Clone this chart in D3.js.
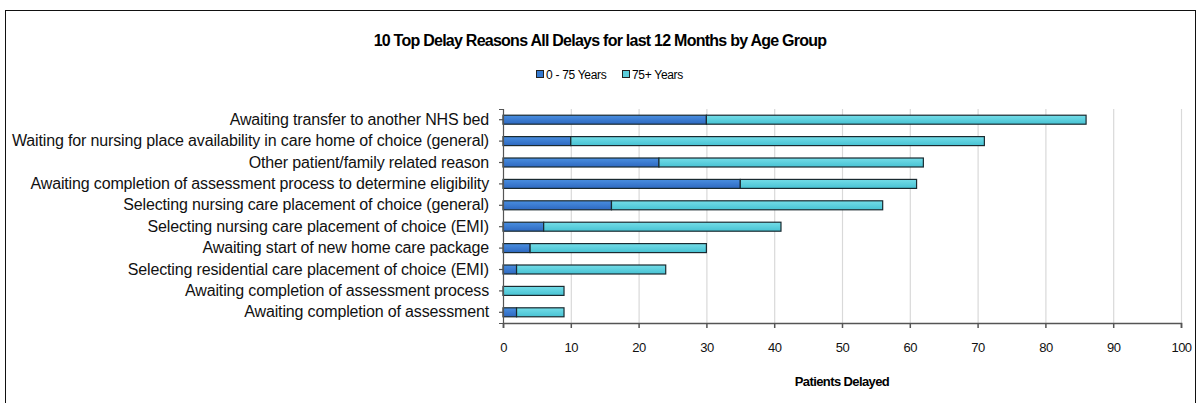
<!DOCTYPE html>
<html>
<head>
<meta charset="utf-8" />
<title>10 Top Delay Reasons</title>
<script src="https://d3js.org/d3.v7.min.js"></script>
<style>
body { margin: 0; background: #fff; font-family: "Liberation Sans", Arial, sans-serif; }
svg { display: block; }
.cat text { font-size: 16px; letter-spacing: -0.15px; fill: #111; }
.xaxis text { font-size: 13px; letter-spacing: -0.5px; fill: #111; }
.axis path, .axis line { stroke: #555; }
</style>
</head>
<body>
<script>
let categories = [
    'Awaiting transfer to another NHS bed',
    'Waiting for nursing place availability in care home of choice (general)',
    'Other patient/family related reason',
    'Awaiting completion of assessment process to determine eligibility',
    'Selecting nursing care placement of choice (general)',
    'Selecting nursing care placement of choice (EMI)',
    'Awaiting start of new home care package',
    'Selecting residential care placement of choice (EMI)',
    'Awaiting completion of assessment process',
    'Awaiting completion of assessment'
];
let under75 = [30, 10, 23, 35, 16, 6, 4, 2, 0, 2];
let over75 = [56, 61, 39, 26, 40, 35, 26, 22, 9, 7];
let seriesNames = ['0 - 75 Years', '75+ Years'];
let xTicks = [0, 10, 20, 30, 40, 50, 60, 70, 80, 90, 100];

let width = 1198, height = 403;
let plotLeft = 503, plotRight = 1181, plotTop = 109, plotBottom = 323;

let svg = d3.select('body').append('svg').attr('width', width).attr('height', height);

// gradients for the bars
let defs = svg.append('defs');
function grad(id, c1, c2) {
    let g = defs.append('linearGradient').attr('id', id).attr('x1', 0).attr('y1', 0).attr('x2', 0).attr('y2', 1);
    g.append('stop').attr('offset', '0%').attr('stop-color', c1);
    g.append('stop').attr('offset', '100%').attr('stop-color', c2);
}
grad('g0', '#4a8fe0', '#2d68c0');
grad('g1', '#74dde8', '#47c2d3');
let fills = ['url(#g0)', 'url(#g1)'];
let swatch = ['#3579cf', '#5ccfdd'];

// outer frame
svg.append('rect').attr('x', 5.5).attr('y', 10.5).attr('width', 1190).attr('height', 400)
    .attr('fill', 'none').attr('stroke', '#111').attr('stroke-width', 1);

svg.append('text').attr('x', 600).attr('y', 46).attr('text-anchor', 'middle')
    .style('font-size', '16px').style('font-weight', 'bold').style('letter-spacing', '-0.75px')
    .text('10 Top Delay Reasons All Delays for last 12 Months by Age Group');

let x = d3.scaleLinear().domain([0, 100]).range([plotLeft, plotRight]);
let y = d3.scaleBand().domain(categories).range([plotTop, plotBottom]).paddingInner(0.58).paddingOuter(0.29);

// legend
let legend = svg.append('g').attr('transform', 'translate(536, 75)');
let lx = [0, 86];
seriesNames.forEach((s, i) => {
    let g = legend.append('g').attr('transform', 'translate(' + lx[i] + ',0)');
    g.append('rect').attr('x', 0.5).attr('y', -4.5).attr('width', 7).attr('height', 7)
        .attr('fill', swatch[i]).attr('stroke', '#222');
    g.append('text').attr('x', 10).attr('y', 4).style('font-size', '12px').style('letter-spacing', '-0.3px').text(s);
});

// grid
svg.append('g').selectAll('line').data(xTicks.slice(1)).enter().append('line')
    .attr('x1', d => x(d) + 0.5).attr('x2', d => x(d) + 0.5).attr('y1', plotTop).attr('y2', plotBottom)
    .attr('stroke', '#d9d9d9').attr('stroke-width', 1.2);

// bars
let stackData = categories.map((c, i) => ({ cat: c, a: under75[i], b: over75[i] }));
let stacked = d3.stack().keys(['a', 'b'])(stackData);
stacked.forEach((layer, k) => {
    svg.append('g').selectAll('rect').data(layer).enter().append('rect')
        .attr('x', d => x(d[0]))
        .attr('y', d => y(d.data.cat))
        .attr('width', d => Math.max(0, x(d[1]) - x(d[0])))
        .attr('height', y.bandwidth())
        .attr('fill', fills[k])
        .attr('stroke', d => (d[1] - d[0]) > 0 ? '#1a2a30' : 'none')
        .attr('stroke-width', 1.2);
});

// axes
let xAxis = svg.append('g').attr('class', 'axis xaxis').attr('transform', 'translate(0,' + plotBottom + ')')
    .call(d3.axisBottom(x).tickValues(xTicks).tickSize(5).tickSizeOuter(5).tickPadding(15));
xAxis.selectAll('path, line').attr('stroke-width', 1.5);

let yAxis = svg.append('g').attr('class', 'axis cat').attr('transform', 'translate(' + plotLeft + ',0)')
    .call(d3.axisLeft(y).tickSize(4).tickSizeOuter(4).tickPadding(10));
yAxis.selectAll('path, line').attr('stroke-width', 1.2);

svg.append('text').attr('x', (plotLeft + plotRight) / 2).attr('y', 386).attr('text-anchor', 'middle')
    .style('font-size', '13px').style('font-weight', 'bold').style('letter-spacing', '-0.6px')
    .text('Patients Delayed');
</script>
</body>
</html>
